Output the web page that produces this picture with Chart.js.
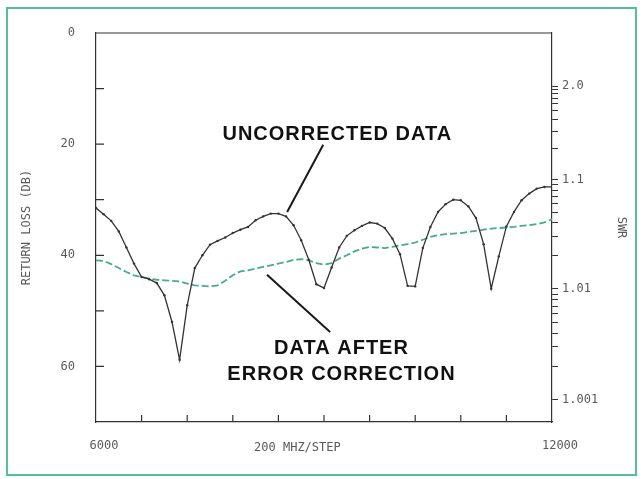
<!DOCTYPE html>
<html>
<head>
<meta charset="utf-8">
<script src="https://cdn.jsdelivr.net/npm/chart.js@4/dist/chart.umd.min.js"></script>
<style>
body { margin: 0; background: #fff; }
canvas { display: block; }
</style>
</head>
<body>
<canvas id="chart" width="643" height="479"></canvas>
<script>
// frequency in MHz, return loss in dB
var freqMHz = [6000, 6100, 6200, 6300, 6400, 6500, 6600, 6700, 6800, 6900,
	7000, 7100, 7200, 7300, 7400, 7500, 7600, 7700, 7800, 7900,
	8000, 8100, 8200, 8300, 8400, 8500, 8600, 8700, 8800, 8900,
	9000, 9100, 9200, 9300, 9400, 9500, 9600, 9700, 9800, 9900,
	10000, 10100, 10200, 10300, 10400, 10500, 10600, 10700, 10800, 10900,
	11000, 11100, 11200, 11300, 11400, 11500, 11600, 11700, 11800, 11900, 12000];

var uncorrected = [31.5, 32.6, 33.8, 35.7, 38.6, 41.5, 43.9, 44.3, 45.0, 47.2,
	52.0, 58.8, 49.0, 42.3, 40.0, 38.1, 37.4, 36.8, 36.0, 35.4,
	34.9, 33.7, 33.0, 32.5, 32.5, 33.0, 34.6, 37.3, 40.8, 45.2,
	45.9, 42.2, 38.6, 36.5, 35.5, 34.7, 34.1, 34.3, 35.1, 37.0,
	39.8, 45.5, 45.6, 38.7, 34.9, 32.2, 30.8, 30.0, 30.1, 31.2,
	33.3, 38.0, 46.0, 40.2, 34.8, 32.2, 30.1, 28.9, 28.0, 27.7, 27.7];

var corrected = [40.9, 41.0, 41.6, 42.3, 43.0, 43.6, 43.9, 44.2, 44.4, 44.5,
	44.6, 44.7, 45.1, 45.4, 45.5, 45.6, 45.4, 44.6, 43.6, 42.9,
	42.7, 42.4, 42.1, 41.8, 41.5, 41.2, 40.8, 40.7, 40.9, 41.4,
	41.7, 41.4, 40.6, 40.0, 39.3, 38.8, 38.5, 38.6, 38.7, 38.5,
	38.2, 38.0, 37.7, 37.2, 36.7, 36.4, 36.2, 36.1, 36.0, 35.8,
	35.6, 35.4, 35.2, 35.1, 35.0, 34.9, 34.7, 34.6, 34.4, 34.1, 33.5];

var freqTicks = [6000, 6600, 7200, 7800, 8400, 9000, 9600, 10200, 10800, 11400, 12000];
var freqLabels = ['6000', '12000'];
var lossTicks = [0, 10, 20, 30, 40, 50, 60, 70];
var lossLabels = ['0', '20', '40', '60'];
var swrLabels = ['2.0', '1.1', '1.01', '1.001'];
var swrMinor = [1.9, 1.8, 1.7, 1.6, 1.5, 1.4, 1.3, 1.2,
	1.09, 1.08, 1.07, 1.06, 1.05, 1.04, 1.03, 1.02,
	1.009, 1.008, 1.007, 1.006, 1.005, 1.004, 1.003, 1.002];

var ink = '#333';
var labelColor = '#5a5a5a';
var mono = "'DejaVu Sans Mono', monospace";

function swrToLoss(s) {
	return -20 * Math.log10((s - 1) / (s + 1));
}

function points(values) {
	return values.map(function(v, i){ return {x: freqMHz[i], y: v}; });
}

var overlay = {
	id: 'overlay',
	beforeDraw: function(chart){
		var c = chart.ctx;
		c.save();
		c.fillStyle = '#fff';
		c.fillRect(0, 0, chart.width, chart.height);
		c.strokeStyle = '#58bd99';
		c.lineWidth = 2;
		c.strokeRect(7, 8, 629, 467);
		c.restore();
	},
	afterDraw: function(chart){
		var c = chart.ctx;
		var a = chart.chartArea;
		var x = chart.scales.x, y = chart.scales.y;
		c.save();
		c.strokeStyle = ink;
		c.lineWidth = 1.2;
		c.beginPath();
		c.moveTo(a.left, a.top);
		c.lineTo(a.right, a.top);
		freqTicks.slice(1, -1).forEach(function(f){
			var px = x.getPixelForValue(f);
			c.moveTo(px, a.bottom);
			c.lineTo(px, a.bottom - 7);
		});
		lossTicks.slice(1, -1).forEach(function(v){
			var py = y.getPixelForValue(v);
			c.moveTo(a.left, py);
			c.lineTo(a.left + 8, py);
		});
		c.stroke();

		// x axis caption
		c.fillStyle = labelColor;
		c.font = '12px ' + mono;
		c.textAlign = 'center';
		c.textBaseline = 'middle';
		c.fillText('200 MHZ/STEP', x.getPixelForValue(8650), a.bottom + 26);

		// callouts
		c.strokeStyle = '#1a1a1a';
		c.lineWidth = 2;
		c.beginPath();
		c.moveTo(x.getPixelForValue(8990), y.getPixelForValue(20.1));
		c.lineTo(x.getPixelForValue(8515), y.getPixelForValue(32.2));
		c.moveTo(x.getPixelForValue(8250), y.getPixelForValue(43.5));
		c.lineTo(x.getPixelForValue(9080), y.getPixelForValue(53.8));
		c.stroke();

		c.fillStyle = '#111';
		c.font = "bold 20px 'Liberation Sans', Arial, sans-serif";
		if ('letterSpacing' in c) c.letterSpacing = '1px';
		c.fillText('UNCORRECTED DATA', x.getPixelForValue(9175), y.getPixelForValue(18.2));
		c.fillText('DATA AFTER', x.getPixelForValue(9230), y.getPixelForValue(56.7));
		c.fillText('ERROR CORRECTION', x.getPixelForValue(9230), y.getPixelForValue(61.4));
		c.restore();
	}
};

var chart = new Chart(document.getElementById('chart').getContext('2d'), {
	type: 'line',
	data: {
		datasets: [{
			label: 'Uncorrected data',
			data: points(uncorrected),
			borderColor: ink,
			borderWidth: 1.3,
			pointRadius: 1.2,
			pointBackgroundColor: ink,
			pointBorderWidth: 0,
			tension: 0
		}, {
			label: 'Data after error correction',
			data: points(corrected),
			borderColor: '#48aa8c',
			borderWidth: 1.8,
			borderDash: [7, 3],
			pointRadius: 0,
			tension: 0
		}]
	},
	options: {
		responsive: false,
		animation: false,
		events: [],
		layout: { padding: { top: 33, left: 0, right: 0, bottom: 0 } },
		plugins: {
			legend: { display: false },
			tooltip: { enabled: false }
		},
		scales: {
			x: {
				type: 'linear',
				min: 6000,
				max: 12000,
				afterBuildTicks: function(scale){
					scale.ticks = freqTicks.map(function(v){ return {value: v}; });
				},
				afterFit: function(scale){ scale.height = 57; },
				grid: { display: false, drawTicks: false },
				border: { display: true, color: ink, width: 1.2 },
				ticks: {
					autoSkip: false,
					maxRotation: 0,
					padding: 17,
					labelOffset: 8,
					color: labelColor,
					font: { family: mono, size: 12 },
					callback: function(v){
						var s = String(v);
						return freqLabels.indexOf(s) >= 0 ? s : '';
					}
				}
			},
			y: {
				position: 'left',
				min: 0,
				max: 70,
				reverse: true,
				afterBuildTicks: function(scale){
					scale.ticks = lossTicks.map(function(v){ return {value: v}; });
				},
				afterFit: function(scale){ scale.width = 96; },
				grid: { display: false, drawTicks: false },
				border: { display: true, color: ink, width: 1.2 },
				title: {
					display: true,
					text: 'RETURN LOSS (DB)',
					color: labelColor,
					font: { family: mono, size: 12 },
					padding: { top: 20 }
				},
				ticks: {
					autoSkip: false,
					padding: 21,
					color: labelColor,
					font: { family: mono, size: 12 },
					callback: function(v){
						var s = String(v);
						return lossLabels.indexOf(s) >= 0 ? s : '';
					}
				}
			},
			y2: {
				position: 'right',
				min: 0,
				max: 70,
				reverse: true,
				afterBuildTicks: function(scale){
					var major = swrLabels.map(function(s){ return {value: swrToLoss(parseFloat(s)), label: s}; });
					var minor = swrMinor.map(function(s){ return {value: swrToLoss(s), label: ''}; });
					scale.ticks = major.concat(minor).sort(function(a, b){ return a.value - b.value; });
				},
				afterFit: function(scale){ scale.width = 91; },
				grid: { display: true, drawOnChartArea: false, drawTicks: true, tickLength: 6, color: ink, lineWidth: 1 },
				border: { display: true, color: ink, width: 1.2 },
				title: {
					display: true,
					text: 'SWR',
					color: labelColor,
					font: { family: mono, size: 12 },
					padding: { top: 15 }
				},
				ticks: {
					autoSkip: false,
					padding: 4,
					color: labelColor,
					font: { family: mono, size: 12 },
					callback: function(v, i, ticks){ return ticks[i].label; }
				}
			}
		}
	},
	plugins: [overlay]
});
</script>
</body>
</html>
